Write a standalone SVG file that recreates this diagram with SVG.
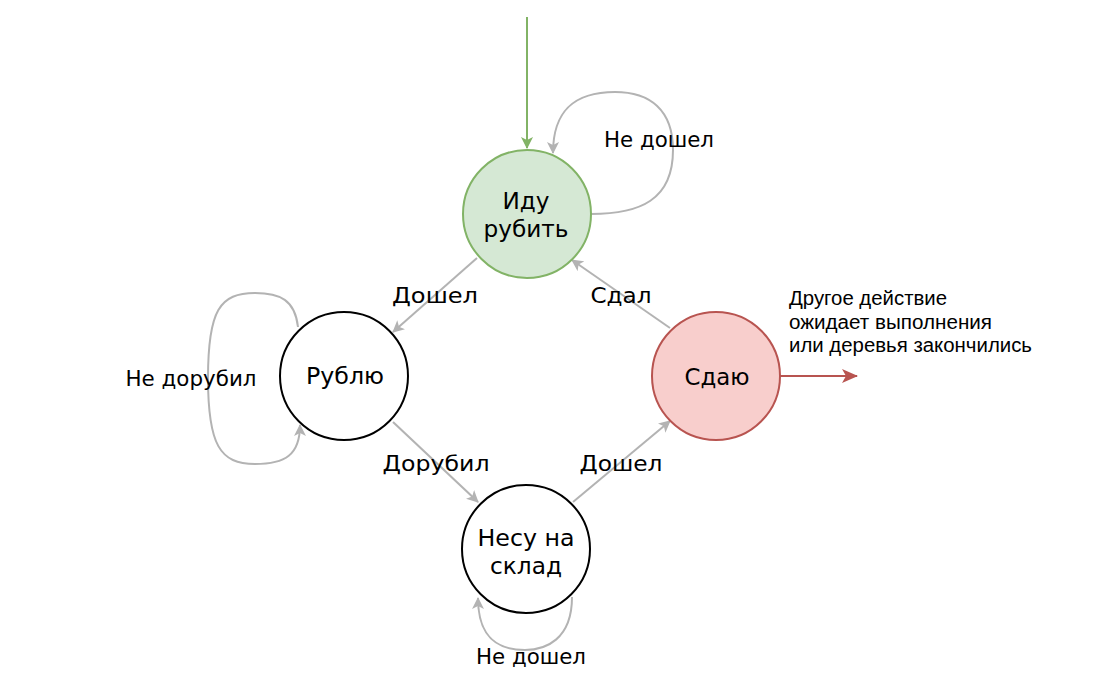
<svg xmlns="http://www.w3.org/2000/svg" width="1100" height="693" viewBox="0 0 1100 693">
<style>
.node{stroke-width:2}
.plain{fill:#ffffff;stroke:#000000}
.green{fill:#d5e8d4;stroke:#82b366}
.red{fill:#f8cecc;stroke:#b85450}
.nt{font-family:"DejaVu Sans","Liberation Sans",sans-serif;font-size:23px;fill:#000;text-anchor:middle}
.lt{font-family:"DejaVu Sans","Liberation Sans",sans-serif;font-size:22px;fill:#000;text-anchor:middle}
.at{font-family:"Liberation Sans",Arial,sans-serif;font-size:20px;fill:#000}
.edge{fill:none;stroke:#b3b3b3;stroke-width:2}
</style>
<defs>
<marker id="ag" viewBox="0 0 12 12" refX="11" refY="6" markerWidth="12" markerHeight="12" markerUnits="userSpaceOnUse" orient="auto"><path d="M0,0 L12,6 L0,12 L3,6 Z" fill="#b3b3b3"/></marker>
<marker id="agr" viewBox="0 0 12 12" refX="11" refY="6" markerWidth="12" markerHeight="12" markerUnits="userSpaceOnUse" orient="auto"><path d="M0,0 L12,6 L0,12 L3,6 Z" fill="#82b366"/></marker>
<marker id="ar" viewBox="0 0 16 16" refX="15" refY="8" markerWidth="16" markerHeight="16" markerUnits="userSpaceOnUse" orient="auto"><path d="M0,1 L16,8 L0,15 L4,8 Z" fill="#b85450"/></marker>
</defs>
<g id="connectors">
<path d="M527,17 L527,148" fill="none" stroke="#82b366" stroke-width="2" marker-end="url(#agr)"/>
<path class="edge" d="M591,214 C640,214 673,200 673,150 C673,110 650,92 615,92 C575,92 553,110 553,153" marker-end="url(#ag)"/>
<path class="edge" d="M477,258 L393,332" marker-end="url(#ag)"/>
<path class="edge" d="M298,327 C295,300 280,293 255,293 C220,293 208,310 208,378 C208,445 220,464 255,464 C285,464 300,455 300,425" marker-end="url(#ag)"/>
<path class="edge" d="M393,422 L478,502" marker-end="url(#ag)"/>
<path class="edge" d="M572,597 C572,640 545,650 525,650 C500,650 478,640 478,598" marker-end="url(#ag)"/>
<path class="edge" d="M573,502 L670,421" marker-end="url(#ag)"/>
<path class="edge" d="M670,328 L572,260" marker-end="url(#ag)"/>
<path d="M780,376 L857,376" fill="none" stroke="#b85450" stroke-width="2" marker-end="url(#ar)"/>
<text class="lt" x="659" y="147" textLength="110" lengthAdjust="spacingAndGlyphs">Не дошел</text>
<text class="lt" x="435" y="303" textLength="86" lengthAdjust="spacingAndGlyphs">Дошел</text>
<text class="lt" x="621" y="303" textLength="61" lengthAdjust="spacingAndGlyphs">Сдал</text>
<text class="lt" x="191" y="386" textLength="131" lengthAdjust="spacingAndGlyphs">Не дорубил</text>
<text class="lt" x="436" y="471" textLength="107" lengthAdjust="spacingAndGlyphs">Дорубил</text>
<text class="lt" x="621" y="471" textLength="83" lengthAdjust="spacingAndGlyphs">Дошел</text>
<text class="lt" x="531" y="664" textLength="110" lengthAdjust="spacingAndGlyphs">Не дошел</text>
<text class="at" x="789" y="305" textLength="158" lengthAdjust="spacingAndGlyphs">Другое действие</text>
<text class="at" x="789" y="329" textLength="203" lengthAdjust="spacingAndGlyphs">ожидает выполнения</text>
<text class="at" x="789" y="352" textLength="243" lengthAdjust="spacingAndGlyphs">или деревья закончились</text>
</g>
<g id="node-idu">
<circle class="node green" cx="527" cy="214" r="64"/>
<text class="nt" x="526" y="209" textLength="47" lengthAdjust="spacingAndGlyphs">Иду</text>
<text class="nt" x="526" y="237" textLength="85" lengthAdjust="spacingAndGlyphs">рубить</text>
</g>
<g id="node-rublyu">
<circle class="node plain" cx="344" cy="376" r="64"/>
<text class="nt" x="345" y="384" textLength="78" lengthAdjust="spacingAndGlyphs">Рублю</text>
</g>
<g id="node-sdayu">
<circle class="node red" cx="716" cy="376" r="64"/>
<text class="nt" x="717" y="385" textLength="65" lengthAdjust="spacingAndGlyphs">Сдаю</text>
</g>
<g id="node-nesu">
<circle class="node plain" cx="526" cy="549" r="64"/>
<text class="nt" x="526" y="546" textLength="97" lengthAdjust="spacingAndGlyphs">Несу на</text>
<text class="nt" x="526" y="574" textLength="72" lengthAdjust="spacingAndGlyphs">склад</text>
</g>
</svg>
